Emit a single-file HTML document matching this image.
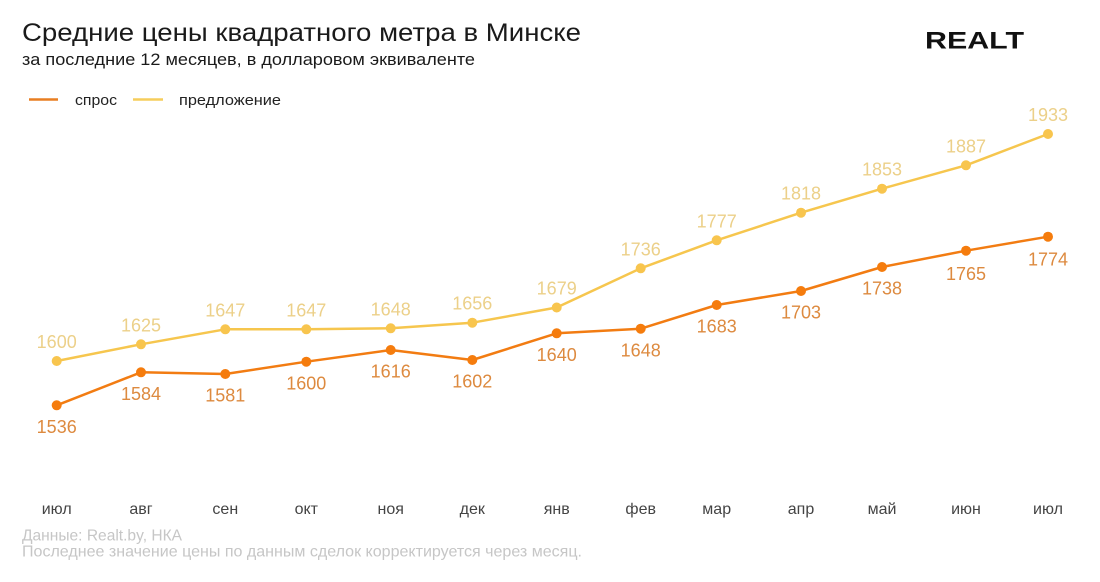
<!DOCTYPE html>
<html><head><meta charset="utf-8"><style>
html,body{margin:0;padding:0;background:#fff;width:1100px;height:582px;overflow:hidden}
svg{display:block}
text{font-family:"Liberation Sans",sans-serif}
</style></head><body>
<svg width="1100" height="582" viewBox="0 0 1100 582" xmlns="http://www.w3.org/2000/svg">
<rect width="1100" height="582" fill="#fff"/>
<text x="22" y="41" font-size="25" fill="#1a1a1a" textLength="559" lengthAdjust="spacingAndGlyphs">Средние цены квадратного метра в Минске</text>
<text x="22" y="65" font-size="16.5" fill="#1a1a1a" textLength="453" lengthAdjust="spacingAndGlyphs">за последние 12 месяцев, в долларовом эквиваленте</text>
<text x="925" y="48.5" font-size="24.5" font-weight="bold" fill="#111" textLength="99" lengthAdjust="spacingAndGlyphs">REALT</text>

<line x1="29" y1="99.5" x2="58" y2="99.5" stroke="#e87e22" stroke-width="2.5"/>
<text x="75" y="105" font-size="15" fill="#222" textLength="42" lengthAdjust="spacingAndGlyphs">спрос</text>
<line x1="133" y1="99.5" x2="163" y2="99.5" stroke="#f6cd5c" stroke-width="2.5"/>
<text x="179" y="105" font-size="15" fill="#222" textLength="102" lengthAdjust="spacingAndGlyphs">предложение</text>

<polyline fill="none" stroke="#f6c64e" stroke-width="2.5" stroke-linejoin="round" points="56.7,361 141,344.3 225.3,329.3 306.3,329.3 390.7,328.3 472.3,322.7 556.7,307.5 640.7,268.3 716.7,240.3 801,212.7 882,188.7 966,165.3 1048,134"/>
<g fill="#f8c54e">
<circle cx="56.7" cy="361" r="5"/><circle cx="141" cy="344.3" r="5"/><circle cx="225.3" cy="329.3" r="5"/><circle cx="306.3" cy="329.3" r="5"/><circle cx="390.7" cy="328.3" r="5"/><circle cx="472.3" cy="322.7" r="5"/><circle cx="556.7" cy="307.5" r="5"/><circle cx="640.7" cy="268.3" r="5"/><circle cx="716.7" cy="240.3" r="5"/><circle cx="801" cy="212.7" r="5"/><circle cx="882" cy="188.7" r="5"/><circle cx="966" cy="165.3" r="5"/><circle cx="1048" cy="134" r="5"/>
</g>
<g font-size="18" fill="#ecd089" text-anchor="middle">
<text x="56.7" y="348">1600</text><text x="141" y="331.3">1625</text><text x="225.3" y="316.3">1647</text><text x="306.3" y="316.3">1647</text><text x="390.7" y="315.3">1648</text><text x="472.3" y="309.7">1656</text><text x="556.7" y="294.5">1679</text><text x="640.7" y="255.3">1736</text><text x="716.7" y="227.3">1777</text><text x="801" y="199.7">1818</text><text x="882" y="175.7">1853</text><text x="966" y="152.3">1887</text><text x="1048" y="121">1933</text>
</g>

<polyline fill="none" stroke="#f27c12" stroke-width="2.5" stroke-linejoin="round" points="56.7,405.3 141,372.3 225.3,374 306.3,361.7 390.7,350 472.3,360 556.7,333.3 640.7,328.7 716.7,305 801,291 882,267 966,250.7 1048,236.7"/>
<g fill="#f57c0d">
<circle cx="56.7" cy="405.3" r="5"/><circle cx="141" cy="372.3" r="5"/><circle cx="225.3" cy="374" r="5"/><circle cx="306.3" cy="361.7" r="5"/><circle cx="390.7" cy="350" r="5"/><circle cx="472.3" cy="360" r="5"/><circle cx="556.7" cy="333.3" r="5"/><circle cx="640.7" cy="328.7" r="5"/><circle cx="716.7" cy="305" r="5"/><circle cx="801" cy="291" r="5"/><circle cx="882" cy="267" r="5"/><circle cx="966" cy="250.7" r="5"/><circle cx="1048" cy="236.7" r="5"/>
</g>
<g font-size="18" fill="#dd8a3f" text-anchor="middle">
<text x="56.7" y="433">1536</text><text x="141" y="400">1584</text><text x="225.3" y="401.7">1581</text><text x="306.3" y="389.4">1600</text><text x="390.7" y="377.7">1616</text><text x="472.3" y="387.7">1602</text><text x="556.7" y="361">1640</text><text x="640.7" y="356.4">1648</text><text x="716.7" y="332.7">1683</text><text x="801" y="318.7">1703</text><text x="882" y="294.7">1738</text><text x="966" y="280">1765</text><text x="1048" y="265.7">1774</text>
</g>

<g font-size="16" fill="#444" text-anchor="middle">
<text x="56.7" y="514">июл</text><text x="141" y="514">авг</text><text x="225.3" y="514">сен</text><text x="306.3" y="514">окт</text><text x="390.7" y="514">ноя</text><text x="472.3" y="514">дек</text><text x="556.7" y="514">янв</text><text x="640.7" y="514">фев</text><text x="716.7" y="514">мар</text><text x="801" y="514">апр</text><text x="882" y="514">май</text><text x="966" y="514">июн</text><text x="1048" y="514">июл</text>
</g>

<text x="22" y="540.7" font-size="16" fill="#c6c6c6" textLength="160" lengthAdjust="spacingAndGlyphs">Данные: Realt.by, НКА</text>
<text x="22" y="556.7" font-size="16" fill="#c6c6c6" textLength="560" lengthAdjust="spacingAndGlyphs">Последнее значение цены по данным сделок корректируется через месяц.</text>
</svg>
</body></html>
